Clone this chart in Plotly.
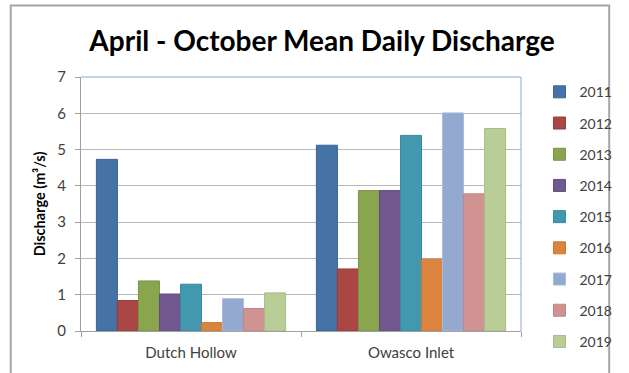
import plotly.graph_objects as go

categories = ["Dutch Hollow", "Owasco Inlet"]
years = ["2011", "2012", "2013", "2014", "2015", "2016", "2017", "2018", "2019"]
dutch_hollow = [4.73, 0.84, 1.38, 1.02, 1.29, 0.23, 0.89, 0.62, 1.05]
owasco_inlet = [5.12, 1.71, 3.87, 3.87, 5.39, 1.98, 6.01, 3.78, 5.58]
colors = ["#4572A7", "#AA4643", "#89A54E", "#71588F", "#4198AF",
          "#DB843D", "#93A9CF", "#D19392", "#B9CD96"]
edge_colors = ["#3A6496", "#983C39", "#7A9444", "#634D80", "#388A9F",
               "#C97634", "#A7BCDD", "#C08584", "#A7BC85"]

FONT = "Lato"

fig = go.Figure()
for i, yr in enumerate(years):
    fig.add_trace(go.Bar(
        x=categories,
        y=[dutch_hollow[i], owasco_inlet[i]],
        name=yr,
        legendgroup=yr,
        marker=dict(color=colors[i], line=dict(color=edge_colors[i], width=1)),
    ))

fig.update_layout(
    width=629, height=373,
    margin=dict(l=81, r=94, t=77, b=40),
    paper_bgcolor="white", plot_bgcolor="white",
    barmode="group", bargap=0.14, bargroupgap=0,
    font=dict(family=FONT, color="#404040", size=13),
    title=dict(text="<b>April - October Mean Daily Discharge</b>",
               x=0.512, xanchor="center", y=0.89, yanchor="middle",
               font=dict(family=FONT, size=28, color="black")),
    showlegend=True,
    legend=dict(x=1.042, xanchor="left", y=1.003, yanchor="top",
                font=dict(family=FONT, size=14, color="#404040"),
                tracegroupgap=10, itemwidth=30, maxheight=373,
                bgcolor="rgba(0,0,0,0)"),
    xaxis=dict(showline=True, linecolor="#A0A0A0", linewidth=1,
               ticks="outside", tickson="boundaries", ticklen=5, tickcolor="#A0A0A0",
               ticklabelstandoff=8,
               tickfont=dict(size=15, color="#404040"), mirror=False),
    yaxis=dict(range=[0, 7], dtick=1, showgrid=True, gridcolor="#B8B8B8", gridwidth=1,
               showline=True, linecolor="#A0A0A0", linewidth=1,
               ticks="outside", ticklen=5, tickcolor="#A0A0A0",
               ticklabelstandoff=6,
               tickfont=dict(size=15, color="#404040"),
               zeroline=False,
               title=dict(text="<b>Discharge (m³/s)</b>", standoff=8,
                          font=dict(size=14.5, color="black"))),
)

# light blue plot-area border on top and right
fig.add_shape(type="line", xref="paper", yref="paper", x0=0, x1=1, y0=1, y1=1,
              line=dict(color="#8EA9D0", width=1))
fig.add_shape(type="line", xref="paper", yref="paper", x0=1, x1=1, y0=0, y1=1,
              line=dict(color="#8EA9D0", width=1))
# outer chart frame (gray)
fx0 = (8.5 - 81) / 454
fx1 = (626 - 81) / 454
fy1 = (333 - 5) / 256
fy0 = (333 - 380) / 256
fig.add_shape(type="path", xref="paper", yref="paper",
              path=f"M {fx0} {fy0} L {fx0} {fy1} L {fx1} {fy1} L {fx1} {fy0}",
              line=dict(color="#A6A6A6", width=2))

fig.write_html("out.html")
